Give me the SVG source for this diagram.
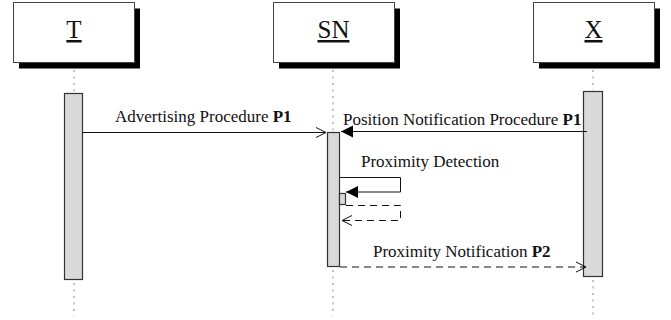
<svg xmlns="http://www.w3.org/2000/svg" width="671" height="320" viewBox="0 0 671 320">
<defs>
<style>
.box{fill:#fff;stroke:#444;stroke-width:1}
.shadow{fill:#000}
.title{font-family:"Liberation Serif","Times New Roman",serif;font-size:25px;fill:#111;text-anchor:middle;text-decoration:underline}
.life{stroke:#888;stroke-width:1;stroke-dasharray:2 4.5;fill:none}
.act{fill:#d9d9d9;stroke:#333;stroke-width:1.2}
.msg{stroke:#111;stroke-width:1;fill:none}
.dash{stroke:#111;stroke-width:1;fill:none;stroke-dasharray:7 5}
.lbl{font-family:"Liberation Serif","Times New Roman",serif;font-size:17px;fill:#111}
.b{font-weight:bold}
</style>
<marker id="open" markerUnits="userSpaceOnUse" markerWidth="12" markerHeight="12" refX="10" refY="5" orient="auto" overflow="visible">
<path d="M0,0 L10,5 L0,10" fill="none" stroke="#111" stroke-width="1"/>
</marker>
<marker id="solid" markerUnits="userSpaceOnUse" markerWidth="14" markerHeight="14" refX="12" refY="6" orient="auto" overflow="visible">
<path d="M0,0 L12,6 L0,12 Z" fill="#000"/>
</marker>
</defs>

<g id="node-T">
<rect class="shadow" x="19" y="8.5" width="121" height="60"/>
<rect class="box" x="13.5" y="2.5" width="121" height="60"/>
<text class="title" x="74" y="38">T</text>
<line class="life" x1="74" y1="70" x2="74" y2="93"/>
<line class="life" x1="74" y1="283" x2="74" y2="316"/>
<rect class="act" x="64.5" y="93.5" width="18" height="186"/>
</g>

<g id="node-SN">
<rect class="shadow" x="279" y="8.5" width="121" height="60"/>
<rect class="box" x="273.5" y="2.5" width="121" height="60"/>
<text class="title" x="333.5" y="38">SN</text>
<line class="life" x1="333" y1="70" x2="333" y2="131"/>
<line class="life" x1="333" y1="270" x2="333" y2="316"/>
<rect class="act" x="327.5" y="132.5" width="12" height="134"/>
<rect class="act" x="339.5" y="193.5" width="6" height="11"/>
</g>

<g id="node-X">
<rect class="shadow" x="539" y="8.5" width="121" height="60"/>
<rect class="box" x="533.5" y="2.5" width="121" height="60"/>
<text class="title" x="593.5" y="38">X</text>
<line class="life" x1="593" y1="70" x2="593" y2="90"/>
<line class="life" x1="593" y1="280" x2="593" y2="316"/>
<rect class="act" x="583.5" y="91.5" width="19" height="185"/>
</g>

<g id="connectors">
<line class="msg" x1="82" y1="132.5" x2="326" y2="132.5" marker-end="url(#open)"/>
<text class="lbl" x="115" y="122">Advertising Procedure <tspan class="b">P1</tspan></text>

<line class="msg" x1="587" y1="131.5" x2="341" y2="131.5" marker-end="url(#solid)"/>
<text class="lbl" x="343" y="125">Position Notification Procedure <tspan class="b">P1</tspan></text>

<path class="msg" d="M340,177.5 H400.5 V192 H346" marker-end="url(#solid)"/>
<text class="lbl" x="361" y="167">Proximity Detection</text>

<path class="dash" d="M346,205.5 H400.5 V220.5 H342" marker-end="url(#open)"/>

<line class="dash" x1="340" y1="267" x2="586" y2="267" marker-end="url(#open)"/>
<text class="lbl" x="373" y="257">Proximity Notification <tspan class="b">P2</tspan></text>
</g>
</svg>
